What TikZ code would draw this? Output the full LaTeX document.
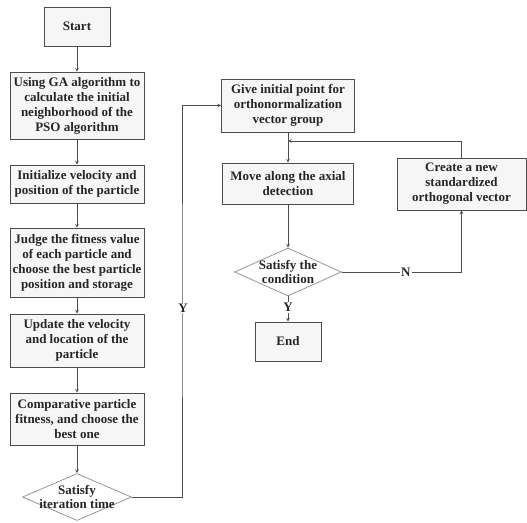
\documentclass[tikz,border=0pt]{standalone}
\usepackage{fontspec}
\setmainfont{Liberation Serif}
\usepackage{tikz}
\usetikzlibrary{calc}
\usetikzlibrary{positioning}
\usetikzlibrary{shapes.geometric}
\tikzstyle{procnode} = [draw=black!70, fill=gray!7, line width=0.7pt, align=center, inner sep=0, text=black!85, font=\fontsize{13}{15}\selectfont\bfseries]
\tikzstyle{decnode} = [draw=black!45, fill=white, diamond, line width=0.7pt, inner sep=0]
\tikzstyle{dectext} = [align=center, inner sep=0, text=black!85, font=\fontsize{13}{14}\selectfont\bfseries]
\tikzstyle{flowline} = [->, >=stealth, draw=black!70, line width=0.7pt]
\tikzstyle{yesno} = [fill=white, inner sep=1pt, text=black!85, font=\fontsize{13}{14}\selectfont\bfseries]

\begin{document}
\begin{tikzpicture}[x=1pt, y=-1pt]
    \useasboundingbox (0,0) rectangle (527,522);

    % left column: PSO part
    \node[procnode, minimum width=66pt, minimum height=39pt] (pso_start) at (77,26.5) {Start};
    \node[procnode, minimum width=134pt, minimum height=67pt] (pso_ga) at ($(pso_start)+(0,79)$)
{Using GA algorithm to\\calculate the initial\\neighborhood of the\\PSO algorithm};
    \node[procnode, minimum width=134pt, minimum height=38pt] (pso_init) at ($(pso_ga)+(0,78.5)$)
{Initialize velocity and\\position of the particle};
    \node[procnode, minimum width=134pt, minimum height=69pt] (pso_judge) at ($(pso_init)+(0,78.5)$)
{Judge the fitness value\\of each particle and\\choose the best particle\\position and storage};
    \node[procnode, minimum width=134pt, minimum height=53pt] (pso_update) at ($(pso_judge)+(0,78)$)
{Update the velocity\\and location of the\\particle};
    \node[procnode, minimum width=134pt, minimum height=52pt] (pso_comp) at ($(pso_update)+(0,78.5)$)
{Comparative particle\\fitness, and choose the\\best one};
    \node[decnode, minimum width=109pt, minimum height=47pt] (pso_iter) at ($(pso_comp)+(0,78)$) {};
    \node[dectext] (pso_iter_txt) at (pso_iter) {Satisfy\\iteration time};
    \draw[flowline] (pso_start) -- (pso_ga);
    \draw[flowline] (pso_ga) -- (pso_init);
    \draw[flowline] (pso_init) -- (pso_judge);
    \draw[flowline] (pso_judge) -- (pso_update);
    \draw[flowline] (pso_update) -- (pso_comp);
    \draw[flowline] (pso_comp) -- (pso_iter);

    % right column: axial search
    \node[procnode, minimum width=133pt, minimum height=53pt] (ax_give) at (288,105.5)
{Give initial point for\\orthonormalization\\vector group};
    \node[procnode, minimum width=131pt, minimum height=41pt] (ax_move) at ($(ax_give)+(0,78)$)
{Move along the axial\\detection};
    \node[decnode, minimum width=107pt, minimum height=48pt] (ax_cond) at ($(ax_move)+(0,88.5)$) {};
    \node[dectext] (ax_cond_txt) at (ax_cond) {Satisfy the\\condition};
    \node[procnode, minimum width=66pt, minimum height=39pt] (ax_end) at ($(ax_cond)+(0,69.5)$) {End};
    \node[procnode, minimum width=129pt, minimum height=52pt] (ax_create) at ($(ax_move)+(173.5,0.5)$)
{Create a new\\standardized\\orthogonal vector};
    \coordinate (iter_turn) at (182,300);
    \coordinate (ax_join) at (288,141);
    \draw[flowline] (pso_iter.east) -| (iter_turn) |- (ax_give.west);
    \draw[flowline] (ax_give) -- (ax_move);
    \draw[flowline] (ax_move) -- (ax_cond);
    \draw[flowline] (ax_cond) -- (ax_end);
    \draw[flowline] (ax_cond.east) -| (ax_create.south);
    \draw[flowline] (ax_create.north) |- (ax_join);

    \node[yesno] (iter_yes) at (183,308) {Y};
    \node[yesno] (cond_yes) at ($(ax_cond.south)!0.45!(ax_end.north)$) {Y};
    \node[yesno] (cond_no) at ($(ax_cond.east)+(64,0)$) {N};
\end{tikzpicture}
\end{document}
